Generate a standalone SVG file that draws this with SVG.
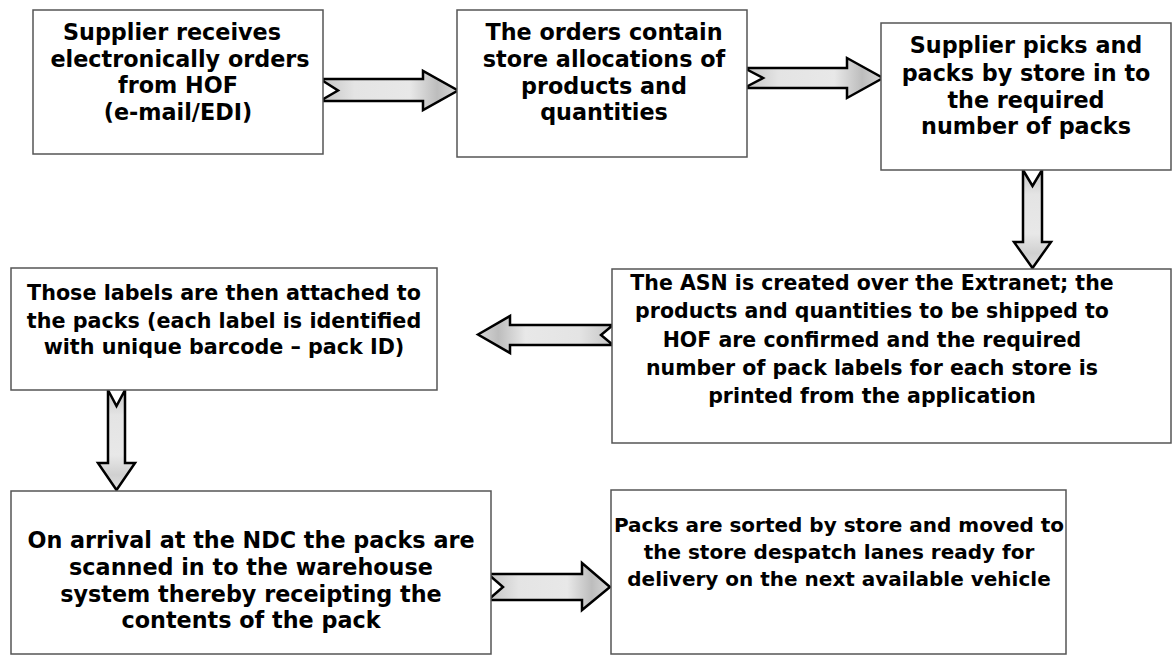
<svg xmlns="http://www.w3.org/2000/svg" width="1173" height="656" viewBox="0 0 1173 656">
<defs>
<linearGradient id="gR" x1="0" y1="0" x2="1" y2="0">
<stop offset="0" stop-color="#c4c4c4"/><stop offset="0.25" stop-color="#e4e4e4"/><stop offset="0.65" stop-color="#e8e8e8"/><stop offset="0.85" stop-color="#bdbdbd"/><stop offset="1" stop-color="#d8d8d8"/>
</linearGradient>
<linearGradient id="gL" x1="1" y1="0" x2="0" y2="0">
<stop offset="0" stop-color="#c4c4c4"/><stop offset="0.25" stop-color="#e4e4e4"/><stop offset="0.65" stop-color="#e8e8e8"/><stop offset="0.85" stop-color="#bdbdbd"/><stop offset="1" stop-color="#d8d8d8"/>
</linearGradient>
<linearGradient id="gD" x1="0" y1="0" x2="0" y2="1">
<stop offset="0" stop-color="#c4c4c4"/><stop offset="0.25" stop-color="#e4e4e4"/><stop offset="0.65" stop-color="#e8e8e8"/><stop offset="0.85" stop-color="#d0d0d0"/><stop offset="1" stop-color="#e0e0e0"/>
</linearGradient>
</defs>
<style>
.box{fill:#fff;stroke:#555;stroke-width:1.5}
.t{font-family:"DejaVu Sans",Verdana,sans-serif;font-weight:bold;font-size:20.5px;fill:#000;text-anchor:middle}
.big{font-size:22.3px}
.mid{font-size:20.7px}
.sm{font-size:20px}
.arr{stroke:#000;stroke-width:2.5;stroke-linejoin:miter}
</style>
<rect width="1173" height="656" fill="#fff"/>
<g id="connectors">
<polygon class="arr" fill="url(#gR)" points="320,79 423,79 423,71 458,90.5 423,110 423,101 320,101 338,90.5"/>
<polygon class="arr" fill="url(#gR)" points="744,68 847,68 847,58 883,78 847,98 847,88 744,88 763,78"/>
<polygon class="arr" fill="url(#gD)" points="1023,170 1032.5,186 1042,170 1042,242 1051,242 1032.5,268 1014,242 1023,242"/>
<polygon class="arr" fill="url(#gL)" points="478,334.5 510,316 510,325 613,325 601,335 613,345 510,345 510,353"/>
<polygon class="arr" fill="url(#gD)" points="108,390 116.5,406 125,390 125,463 135,463 116.5,490 98,463 108,463"/>
<polygon class="arr" fill="url(#gR)" points="488,574 582,574 582,563 610,587 582,610 582,600 488,600 503,587"/>
</g>
<g id="n1">
<rect class="box" x="33" y="10" width="290" height="144"/>
<text class="t big" x="172" y="40">Supplier receives</text>
<text class="t big" x="180" y="66.5">electronically orders</text>
<text class="t big" x="178" y="93">from HOF</text>
<text class="t big" x="178" y="119.5">(e-mail/EDI)</text>
</g>
<g id="n2">
<rect class="box" x="457" y="10" width="290" height="147"/>
<text class="t big" x="604" y="40">The orders contain</text>
<text class="t big" x="604" y="67">store allocations of</text>
<text class="t big" x="604" y="93.5">products and</text>
<text class="t big" x="604" y="120">quantities</text>
</g>
<g id="n3">
<rect class="box" x="881" y="23" width="290" height="147"/>
<text class="t big" x="1026" y="53">Supplier picks and</text>
<text class="t big" x="1026" y="80.5">packs by store in to</text>
<text class="t big" x="1026" y="107.5">the required</text>
<text class="t big" x="1026" y="134">number of packs</text>
</g>
<g id="n4">
<rect class="box" x="612" y="269" width="559" height="174"/>
<text class="t" x="872" y="290">The ASN is created over the Extranet; the</text>
<text class="t" x="872" y="318">products and quantities to be shipped to</text>
<text class="t" x="872" y="347">HOF are confirmed and the required</text>
<text class="t" x="872" y="375">number of pack labels for each store is</text>
<text class="t" x="872" y="403">printed from the application</text>
</g>
<g id="n5">
<rect class="box" x="11" y="268" width="426" height="122"/>
<text class="t mid" x="224" y="300">Those labels are then attached to</text>
<text class="t mid" x="224" y="328">the packs (each label is identified</text>
<text class="t mid" x="224" y="354">with unique barcode – pack ID)</text>
</g>
<g id="n6">
<rect class="box" x="11" y="491" width="480" height="163"/>
<text class="t big" x="251" y="548">On arrival at the NDC the packs are</text>
<text class="t big" x="251" y="575">scanned in to the warehouse</text>
<text class="t big" x="251" y="602">system thereby receipting the</text>
<text class="t big" x="251" y="628">contents of the pack</text>
</g>
<g id="n7">
<rect class="box" x="611" y="490" width="455" height="164"/>
<text class="t sm" x="839" y="532">Packs are sorted by store and moved to</text>
<text class="t sm" x="839" y="559">the store despatch lanes ready for</text>
<text class="t sm" x="839" y="586">delivery on the next available vehicle</text>
</g>
</svg>
